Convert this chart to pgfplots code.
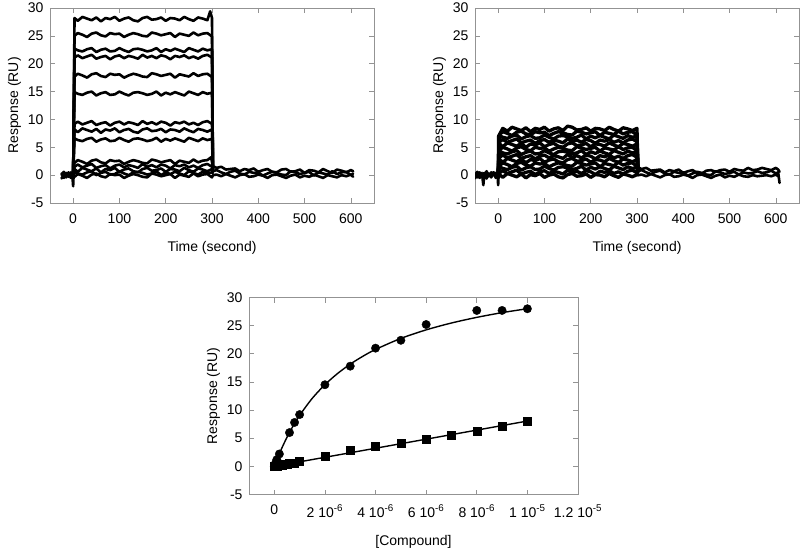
\documentclass[border=0pt]{standalone}
\usepackage{fontspec}
\setmainfont{Liberation Sans}
\usepackage{pgfplots}
\pgfplotsset{compat=1.18}
\pgfplotsset{
  frame/.style={
    scale only axis,
    axis line style={gray!85},
    tick style={gray!85, line width=0.6pt},
    tick align=inside,
    major tick length=5pt,
    ytick={-5,0,5,10,15,20,25,30},
    ymin=-5, ymax=30,
    /pgf/number format/assume math mode=true,
    tick label style={font=\fontsize{14}{16}\selectfont},
    xticklabel style={yshift=-7pt},
    yticklabel style={xshift=-3pt},
    label style={font=\fontsize{14}{16}\selectfont},
    xlabel style={yshift=-11pt},
    ylabel={Response (RU)},
  },
  sg/.style={frame, width=324pt, height=195pt, xmin=-50, xmax=650,
    xtick={0,100,200,300,400,500,600}, xlabel={Time (second)}},
  tr/.style={black, line width=2.6pt, line join=round, line cap=round},
  tb/.style={black, line width=3.3pt, line join=round, line cap=round},
}
\begin{document}
\begin{tikzpicture}
\useasboundingbox (0pt,0pt) rectangle (800pt,549pt);
% ---------------- top left ----------------
\begin{axis}[sg, at={(50pt,346pt)}, anchor=south west]
% baseline
\addplot[tr] coordinates {(-25,0.3)(-20,-0.5)(-15,0.4)(-10,-0.3)(-5,0.5)(-1,-0.2)(0,0.0)};
\addplot[tr] coordinates {(-25,-0.6)(-20,0.2)(-15,-0.4)(-10,0.5)(-5,-0.5)(-2,0.3)(0,-2.0)(1,0.0)};
\addplot[tr] coordinates {(-25,0.1)(-20,0.6)(-15,-0.2)(-10,0.2)(-5,-0.1)(0,0.6)};
% high traces
\addplot[tr] coordinates {(0,0)(3,28.2)(10,27.7)(20,28.4)(30,28.1)(40,27.8)(50,28.3)(60,27.6)(70,28.2)(80,28.0)(90,28.4)(100,27.7)(110,28.1)(120,28.3)(130,27.8)(140,27.6)(150,28.2)(160,28.4)(170,27.9)(180,28.0)(190,28.3)(200,27.7)(210,28.2)(220,28.1)(230,27.8)(240,28.4)(250,28.0)(260,27.7)(270,28.3)(280,28.1)(290,27.8)(296,29.4)(300,28.2)(302,1.2)};
\addplot[tr] coordinates {(0,0)(3,25.0)(10,25.5)(20,25.2)(30,24.8)(40,25.4)(50,25.6)(60,25.1)(70,24.9)(80,25.5)(90,25.3)(100,25.4)(110,24.8)(120,25.2)(130,25.5)(140,25.3)(150,25.0)(160,24.9)(170,25.6)(180,25.4)(190,25.1)(200,25.3)(210,25.5)(220,24.8)(230,25.4)(240,25.2)(250,25.0)(260,25.6)(270,25.1)(280,25.4)(290,25.5)(300,24.9)(302,1.0)};
\addplot[tr] coordinates {(0,0)(3,22.7)(10,22.4)(20,22.2)(30,22.6)(40,22.8)(50,22.1)(60,22.5)(70,22.7)(80,22.2)(90,22.3)(100,22.8)(110,22.4)(120,22.1)(130,22.6)(140,22.7)(150,22.5)(160,22.2)(170,22.4)(180,22.8)(190,22.1)(200,22.6)(210,22.3)(220,22.7)(230,22.4)(240,22.1)(250,22.8)(260,22.5)(270,22.2)(280,22.7)(290,22.4)(300,22.6)(302,1.1)};
\addplot[tr] coordinates {(0,0)(3,21.1)(10,21.5)(20,21.0)(30,21.3)(40,21.6)(50,20.9)(60,21.2)(70,21.4)(80,20.8)(90,21.3)(100,21.5)(110,21.0)(120,21.4)(130,21.2)(140,20.9)(150,21.6)(160,21.1)(170,21.4)(180,21.0)(190,21.5)(200,21.3)(210,20.8)(220,21.4)(230,21.2)(240,21.5)(250,21.0)(260,21.3)(270,20.9)(280,21.4)(290,21.6)(300,21.1)(302,0.9)};
\addplot[tr] coordinates {(0,0)(3,17.7)(10,18.2)(20,17.9)(30,17.5)(40,18.1)(50,18.3)(60,17.8)(70,17.6)(80,18.2)(90,18.0)(100,18.1)(110,17.5)(120,17.9)(130,18.2)(140,18.0)(150,17.7)(160,17.6)(170,18.3)(180,18.1)(190,17.8)(200,18.0)(210,18.2)(220,17.5)(230,18.1)(240,17.9)(250,17.7)(260,18.3)(270,17.8)(280,18.1)(290,18.2)(300,17.6)(302,0.8)};
\addplot[tr] coordinates {(0,0)(3,14.9)(10,14.6)(20,14.4)(30,14.8)(40,15.0)(50,14.3)(60,14.7)(70,14.9)(80,14.4)(90,14.5)(100,15.0)(110,14.6)(120,14.3)(130,14.8)(140,14.9)(150,14.7)(160,14.4)(170,14.6)(180,15.0)(190,14.3)(200,14.8)(210,14.5)(220,14.9)(230,14.6)(240,14.3)(250,15.0)(260,14.7)(270,14.4)(280,14.9)(290,14.6)(300,14.8)(302,0.8)};
\addplot[tr] coordinates {(0,0)(3,9.2)(10,9.6)(20,9.1)(30,9.4)(40,9.7)(50,9.0)(60,9.3)(70,9.5)(80,8.9)(90,9.4)(100,9.6)(110,9.1)(120,9.5)(130,9.3)(140,9.0)(150,9.7)(160,9.2)(170,9.5)(180,9.1)(190,9.6)(200,9.4)(210,8.9)(220,9.5)(230,9.3)(240,9.6)(250,9.1)(260,9.4)(270,9.0)(280,9.5)(290,9.7)(300,9.2)(302,0.7)};
\addplot[tr] coordinates {(0,0)(3,8.2)(10,7.7)(20,8.4)(30,8.1)(40,7.8)(50,8.3)(60,7.6)(70,8.2)(80,8.0)(90,8.4)(100,7.7)(110,8.1)(120,8.3)(130,7.8)(140,7.6)(150,8.2)(160,8.4)(170,7.9)(180,8.0)(190,8.3)(200,7.7)(210,8.2)(220,8.1)(230,7.8)(240,8.4)(250,8.0)(260,7.7)(270,8.3)(280,8.1)(290,7.8)(300,8.2)(302,0.7)};
\addplot[tr] coordinates {(0,0)(3,6.6)(10,6.3)(20,6.1)(30,6.5)(40,6.7)(50,6.0)(60,6.4)(70,6.6)(80,6.1)(90,6.2)(100,6.7)(110,6.3)(120,6.0)(130,6.5)(140,6.6)(150,6.4)(160,6.1)(170,6.3)(180,6.7)(190,6.0)(200,6.5)(210,6.2)(220,6.6)(230,6.3)(240,6.0)(250,6.7)(260,6.4)(270,6.1)(280,6.6)(290,6.3)(300,6.5)(302,0.6)};
% low traces
\addplot[tr] coordinates {(0,0)(3,2.2)(10,2.7)(20,2.4)(30,2.0)(40,2.6)(50,2.8)(60,2.3)(70,2.1)(80,2.7)(90,2.5)(100,2.6)(110,2.0)(120,2.4)(130,2.7)(140,2.5)(150,2.2)(160,2.1)(170,2.8)(180,2.6)(190,2.3)(200,2.5)(210,2.7)(220,2.0)(230,2.6)(240,2.4)(250,2.2)(260,2.8)(270,2.3)(280,2.6)(290,2.7)(298,3.2)(302,1.5)};
\addplot[tr] coordinates {(0,0)(3,1.5)(10,1.9)(20,1.4)(30,1.7)(40,2.0)(50,1.3)(60,1.6)(70,1.8)(80,1.2)(90,1.7)(100,1.9)(110,1.4)(120,1.8)(130,1.6)(140,1.3)(150,2.0)(160,1.5)(170,1.8)(180,1.4)(190,1.9)(200,1.7)(210,1.2)(220,1.8)(230,1.6)(240,1.9)(250,1.4)(260,1.7)(270,1.3)(280,1.8)(290,2.0)(300,1.5)(302,1.2)};
\addplot[tr] coordinates {(0,0)(3,1.1)(10,0.6)(20,1.3)(30,1.0)(40,0.7)(50,1.2)(60,0.5)(70,1.1)(80,0.9)(90,1.3)(100,0.6)(110,1.0)(120,1.2)(130,0.7)(140,0.5)(150,1.1)(160,1.3)(170,0.8)(180,0.9)(190,1.2)(200,0.6)(210,1.1)(220,1.0)(230,0.7)(240,1.3)(250,0.9)(260,0.6)(270,1.2)(280,1.0)(290,0.7)(300,1.1)(302,0.9)};
\addplot[tr] coordinates {(0,0)(3,0.6)(10,0.3)(20,0.1)(30,0.5)(40,0.7)(50,0.0)(60,0.4)(70,0.6)(80,0.1)(90,0.2)(100,0.7)(110,0.3)(120,0.0)(130,0.5)(140,0.6)(150,0.4)(160,0.1)(170,0.3)(180,0.7)(190,0.0)(200,0.5)(210,0.2)(220,0.6)(230,0.3)(240,0.0)(250,0.7)(260,0.4)(270,0.1)(280,0.6)(290,0.3)(300,0.5)(302,0.4)};
\addplot[tr] coordinates {(0,0)(3,-0.3)(10,0.2)(20,-0.1)(30,-0.5)(40,0.1)(50,0.3)(60,-0.2)(70,-0.4)(80,0.2)(90,0.0)(100,0.1)(110,-0.5)(120,-0.1)(130,0.2)(140,0.0)(150,-0.3)(160,-0.4)(170,0.3)(180,0.1)(190,-0.2)(200,0.0)(210,0.2)(220,-0.5)(230,0.1)(240,-0.1)(250,-0.3)(260,0.3)(270,-0.2)(280,0.1)(290,0.2)(300,-0.4)(302,0.0)};
% dissociation
\addplot[tr] coordinates {(302,1.6)(310,1.3)(320,1.5)(330,1.0)(340,1.1)(350,1.2)(360,0.7)(370,1.1)(380,0.9)(390,1.2)(400,0.6)(410,0.9)(420,1.1)(430,0.6)(440,0.5)(450,1.0)(460,1.1)(470,0.6)(480,0.7)(490,1.0)(500,0.4)(510,0.9)(520,0.8)(530,0.5)(540,1.1)(550,0.7)(560,0.4)(570,1.0)(580,0.8)(590,0.5)(600,0.9)(605,0.7)};
\addplot[tr] coordinates {(302,0.7)(310,0.9)(320,0.5)(330,0.2)(340,0.6)(350,0.8)(360,0.3)(370,0.1)(380,0.6)(390,0.4)(400,0.5)(410,-0.1)(420,0.3)(430,0.6)(440,0.4)(450,0.1)(460,0.0)(470,0.7)(480,0.5)(490,0.2)(500,0.4)(510,0.6)(520,-0.1)(530,0.5)(540,0.3)(550,0.1)(560,0.7)(570,0.2)(580,0.5)(590,0.6)(600,0.0)(605,0.3)};
\addplot[tr] coordinates {(302,0.0)(310,0.1)(320,-0.2)(330,0.2)(340,-0.1)(350,-0.4)(360,0.0)(370,0.2)(380,-0.3)(390,-0.2)(400,0.1)(410,-0.1)(420,-0.5)(430,0.0)(440,0.1)(450,-0.2)(460,-0.5)(470,-0.1)(480,0.1)(490,-0.4)(500,-0.1)(510,-0.3)(520,0.1)(530,-0.2)(540,-0.5)(550,0.0)(560,-0.2)(570,-0.4)(580,0.0)(590,-0.2)(600,0.1)(605,-0.3)};
\end{axis}
% ---------------- top right ----------------
\begin{axis}[sg, at={(475pt,346pt)}, anchor=south west]
\addplot[tr] coordinates {(-50,0.3)(-45,-0.4)(-40,0.5)(-35,-0.2)(-30,0.4)(-25,-0.5)(-20,0.2)(-15,-0.3)(-10,0.5)(-5,-0.1)(0,0.3)};
\addplot[tr] coordinates {(-50,-0.6)(-45,0.2)(-40,-0.5)(-35,0.4)(-32,-1.8)(-30,0.1)(-25,-0.6)(-20,0.3)(-15,-0.4)(-10,0.5)(-5,-0.5)(0,0.2)};
\addplot[tr] coordinates {(-50,0.1)(-45,0.6)(-40,-0.1)(-35,0.2)(-30,-0.3)(-25,0.7)(-20,-0.2)(-15,0.5)(-10,0.0)(-5,0.4)(-1,-0.3)(0,-1.8)(1,0.0)};
\addplot[tb] coordinates {(0,0)(1,7.0)(10,8.4)(20,7.9)(30,8.6)(40,8.3)(50,8.0)(60,8.5)(70,7.8)(80,8.4)(90,8.2)(100,8.6)(110,7.9)(120,8.3)(130,8.5)(140,8.0)(150,8.8)(160,8.6)(170,8.1)(180,8.2)(190,8.5)(200,7.9)(210,8.4)(220,8.3)(230,8.0)(240,8.6)(250,8.2)(260,7.9)(270,8.5)(280,8.3)(290,8.0)(300,8.4)(302,1.2)};
\addplot[tb] coordinates {(0,0)(3,7.3)(10,7.8)(20,7.5)(30,7.1)(40,7.7)(50,7.9)(60,7.4)(70,7.2)(80,7.8)(90,7.6)(100,7.7)(110,7.1)(120,7.5)(130,7.8)(140,7.6)(150,7.3)(160,7.2)(170,7.9)(180,7.7)(190,7.4)(200,7.6)(210,7.8)(220,7.1)(230,7.7)(240,7.5)(250,7.3)(260,7.9)(270,7.4)(280,7.7)(290,7.8)(300,7.2)(302,1.0)};
\addplot[tb] coordinates {(0,0)(3,7.1)(10,6.8)(20,6.6)(30,7.0)(40,7.2)(50,6.5)(60,6.9)(70,7.1)(80,6.6)(90,6.7)(100,7.2)(110,6.8)(120,6.5)(130,7.0)(140,7.1)(150,6.9)(160,6.6)(170,6.8)(180,7.2)(190,6.5)(200,7.0)(210,6.7)(220,7.1)(230,6.8)(240,6.5)(250,7.2)(260,6.9)(270,6.6)(280,7.1)(290,6.8)(300,7.0)(302,0.9)};
\addplot[tb] coordinates {(0,0)(3,6.0)(10,6.4)(20,5.9)(30,6.2)(40,6.5)(50,5.8)(60,6.1)(70,6.3)(80,5.7)(90,6.2)(100,6.4)(110,5.9)(120,6.3)(130,6.1)(140,5.8)(150,6.5)(160,6.0)(170,6.3)(180,5.9)(190,6.4)(200,6.2)(210,5.7)(220,6.3)(230,6.1)(240,6.4)(250,5.9)(260,6.2)(270,5.8)(280,6.3)(290,6.5)(300,6.0)(302,0.9)};
\addplot[tb] coordinates {(0,0)(3,5.6)(10,5.1)(20,5.8)(30,5.5)(40,5.2)(50,5.7)(60,5.0)(70,5.6)(80,5.4)(90,5.8)(100,5.1)(110,5.5)(120,5.7)(130,5.2)(140,5.0)(150,5.6)(160,5.8)(170,5.3)(180,5.4)(190,5.7)(200,5.1)(210,5.6)(220,5.5)(230,5.2)(240,5.8)(250,5.4)(260,5.1)(270,5.7)(280,5.5)(290,5.2)(300,5.6)(302,0.8)};
\addplot[tb] coordinates {(0,0)(3,4.5)(10,5.0)(20,4.7)(30,4.3)(40,4.9)(50,5.1)(60,4.6)(70,4.4)(80,5.0)(90,4.8)(100,4.9)(110,4.3)(120,4.7)(130,5.0)(140,4.8)(150,4.5)(160,4.4)(170,5.1)(180,4.9)(190,4.6)(200,4.8)(210,5.0)(220,4.3)(230,4.9)(240,4.7)(250,4.5)(260,5.1)(270,4.6)(280,4.9)(290,5.0)(300,4.4)(302,0.8)};
\addplot[tb] coordinates {(0,0)(3,4.3)(10,4.0)(20,3.8)(30,4.2)(40,4.4)(50,3.7)(60,4.1)(70,4.3)(80,3.8)(90,3.9)(100,4.4)(110,4.0)(120,3.7)(130,4.2)(140,4.3)(150,4.1)(160,3.8)(170,4.0)(180,4.4)(190,3.7)(200,4.2)(210,3.9)(220,4.3)(230,4.0)(240,3.7)(250,4.4)(260,4.1)(270,3.8)(280,4.3)(290,4.0)(300,4.2)(302,0.7)};
\addplot[tb] coordinates {(0,0)(3,3.2)(10,3.6)(20,3.1)(30,3.4)(40,3.7)(50,3.0)(60,3.3)(70,3.5)(80,2.9)(90,3.4)(100,3.6)(110,3.1)(120,3.5)(130,3.3)(140,3.0)(150,3.7)(160,3.2)(170,3.5)(180,3.1)(190,3.6)(200,3.4)(210,2.9)(220,3.5)(230,3.3)(240,3.6)(250,3.1)(260,3.4)(270,3.0)(280,3.5)(290,3.7)(300,3.2)(302,0.7)};
\addplot[tb] coordinates {(0,0)(3,2.8)(10,2.3)(20,3.0)(30,2.7)(40,2.4)(50,2.9)(60,2.2)(70,2.8)(80,2.6)(90,3.0)(100,2.3)(110,2.7)(120,2.9)(130,2.4)(140,2.2)(150,2.8)(160,3.0)(170,2.5)(180,2.6)(190,2.9)(200,2.3)(210,2.8)(220,2.7)(230,2.4)(240,3.0)(250,2.6)(260,2.3)(270,2.9)(280,2.7)(290,2.4)(300,2.8)(302,0.6)};
\addplot[tb] coordinates {(0,0)(3,1.7)(10,2.2)(20,1.9)(30,1.5)(40,2.1)(50,2.3)(60,1.8)(70,1.6)(80,2.2)(90,2.0)(100,2.1)(110,1.5)(120,1.9)(130,2.2)(140,2.0)(150,1.7)(160,1.6)(170,2.3)(180,2.1)(190,1.8)(200,2.0)(210,2.2)(220,1.5)(230,2.1)(240,1.9)(250,1.7)(260,2.3)(270,1.8)(280,2.1)(290,2.2)(300,1.6)(302,0.6)};
\addplot[tb] coordinates {(0,0)(3,1.5)(10,1.2)(20,1.0)(30,1.4)(40,1.6)(50,0.9)(60,1.3)(70,1.5)(80,1.0)(90,1.1)(100,1.6)(110,1.2)(120,0.9)(130,1.4)(140,1.5)(150,1.3)(160,1.0)(170,1.2)(180,1.6)(190,0.9)(200,1.4)(210,1.1)(220,1.5)(230,1.2)(240,0.9)(250,1.6)(260,1.3)(270,1.0)(280,1.5)(290,1.2)(300,1.4)(302,0.5)};
\addplot[tb] coordinates {(0,0)(3,0.4)(10,0.8)(20,0.3)(30,0.6)(40,0.9)(50,0.2)(60,0.5)(70,0.7)(80,0.1)(90,0.6)(100,0.8)(110,0.3)(120,0.7)(130,0.5)(140,0.2)(150,0.9)(160,0.4)(170,0.7)(180,0.3)(190,0.8)(200,0.6)(210,0.1)(220,0.7)(230,0.5)(240,0.8)(250,0.3)(260,0.6)(270,0.2)(280,0.7)(290,0.9)(300,0.4)(302,0.4)};
\addplot[tb] coordinates {(0,0)(3,0.1)(10,-0.4)(20,0.3)(30,0.0)(40,-0.3)(50,0.2)(60,-0.5)(70,0.1)(80,-0.1)(90,0.3)(100,-0.4)(110,0.0)(120,0.2)(130,-0.3)(140,-0.5)(150,0.1)(160,0.3)(170,-0.2)(180,-0.1)(190,0.2)(200,-0.4)(210,0.1)(220,0.0)(230,-0.3)(240,0.3)(250,-0.1)(260,-0.4)(270,0.2)(280,0.0)(290,-0.3)(300,0.1)(302,0.0)};
\addplot[tr] coordinates {(302,1.4)(310,1.1)(320,1.3)(330,0.8)(340,0.9)(350,1.0)(360,0.5)(370,0.9)(380,0.7)(390,1.0)(400,0.4)(410,0.7)(420,0.9)(430,0.4)(440,0.3)(450,0.8)(460,0.9)(470,0.6)(480,0.9)(490,1.0)(500,0.6)(510,1.1)(520,0.9)(530,0.8)(540,1.3)(550,0.9)(560,1.0)(570,1.3)(580,1.1)(590,0.9)(600,1.3)(605,1.0)(608,0.6)};
\addplot[tr] coordinates {(302,0.7)(310,0.9)(320,0.5)(330,0.2)(340,0.6)(350,0.8)(360,0.3)(370,0.1)(380,0.6)(390,0.4)(400,0.5)(410,-0.1)(420,0.3)(430,0.6)(440,0.4)(450,0.1)(460,0.0)(470,0.7)(480,0.5)(490,0.2)(500,0.4)(510,0.6)(520,0.1)(530,0.5)(540,0.3)(550,0.4)(560,0.7)(570,0.4)(580,0.5)(590,0.8)(600,0.3)(605,0.5)(608,-1.4)};
\addplot[tr] coordinates {(302,0.0)(310,0.1)(320,-0.2)(330,0.2)(340,-0.1)(350,-0.4)(360,0.0)(370,0.2)(380,-0.3)(390,-0.2)(400,0.1)(410,-0.1)(420,-0.5)(430,0.0)(440,0.1)(450,-0.2)(460,-0.5)(470,-0.1)(480,0.1)(490,-0.4)(500,-0.1)(510,-0.3)(520,0.1)(530,-0.2)(540,-0.3)(550,0.0)(560,-0.2)(570,-0.1)(580,0.0)(590,-0.2)(600,0.1)(605,-0.2)};
\end{axis}
% ---------------- bottom ----------------
\begin{axis}[frame, at={(249pt,54.5pt)}, anchor=south west, width=329pt, height=197pt,
  xmin=-1, xmax=12, xtick={0,2,4,6,8,10,12},
  xticklabels={0, 2 10\textsuperscript{-6}, 4 10\textsuperscript{-6}, 6 10\textsuperscript{-6}, 8 10\textsuperscript{-6}, 1 10\textsuperscript{-5}, 1.2 10\textsuperscript{-5}},
  xlabel={[Compound]}]
\addplot[black, line width=1.4pt, smooth] coordinates {(0,0)(0.05,0.6)(0.1,1.17)(0.25,2.78)(0.5,5.17)(0.75,7.24)(1,9.06)(1.5,12.09)(2,14.51)(2.5,16.50)(3,18.16)(3.5,19.56)(4,20.77)(5,22.73)(6,24.25)(7,25.47)(8,26.47)(9,27.31)(10,28.01)};
\addplot[black, line width=1.4pt] coordinates {(0,0)(10,8.05)};
\addplot[only marks, mark=*, mark size=4.2pt, black] coordinates {(0,0)(0.05,0.6)(0.1,1.2)(0.2,2.2)(0.6,6.0)(0.8,7.8)(1,9.2)(2,14.5)(3,17.8)(4,21.0)(5,22.4)(6,25.2)(8,27.7)(9,27.7)(10,28.0)};
\addplot[only marks, mark=square*, mark size=4.0pt, black] coordinates {(0,0)(0.1,0.1)(0.2,0.15)(0.3,0.25)(0.4,0.3)(0.5,0.4)(0.6,0.5)(0.7,0.55)(0.8,0.65)(1,0.85)(2,1.75)(3,2.8)(4,3.5)(5,4.1)(6,4.85)(7,5.55)(8,6.3)(9,7.15)(10,8.0)};
\end{axis}
\end{tikzpicture}
\end{document}
